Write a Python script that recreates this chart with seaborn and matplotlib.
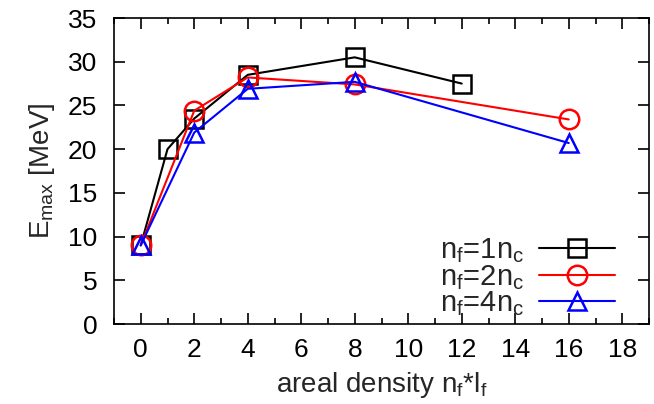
import matplotlib
matplotlib.use("Agg")
import matplotlib.pyplot as plt
import seaborn as sns
import numpy as np

sns.set_theme(style="ticks")
plt.rcParams['font.family'] = ['Liberation Sans', 'DejaVu Sans']
plt.rcParams['mathtext.fontset'] = 'custom'
plt.rcParams['mathtext.rm'] = 'Liberation Sans'
plt.rcParams['mathtext.it'] = 'Liberation Sans'

x_nf1 = [0, 1, 2, 4, 8, 12]
y_nf1 = [9.0, 20.0, 23.5, 28.5, 30.5, 27.5]
x_nf2 = [0, 2, 4, 8, 16]
y_nf2 = [9.0, 24.4, 28.2, 27.4, 23.4]
x_nf4 = [0, 2, 4, 8, 16]
y_nf4 = [9.0, 21.9, 26.9, 27.7, 20.7]
labels = [r"n$_\mathregular{f}$=1n$_\mathregular{c}$",
          r"n$_\mathregular{f}$=2n$_\mathregular{c}$",
          r"n$_\mathregular{f}$=4n$_\mathregular{c}$"]
x_ticks = [0, 2, 4, 6, 8, 10, 12, 14, 16, 18]
y_ticks = [0, 5, 10, 15, 20, 25, 30, 35]

fig = plt.figure(figsize=(6.54, 4.04), dpi=100)
ax = fig.add_axes([114/654, 80/404, 535/654, 306/404])

series = [(x_nf1, y_nf1, "black", "s", 13),
          (x_nf2, y_nf2, "red", "o", 14),
          (x_nf4, y_nf4, "blue", "^", 13)]
for (xs, ys, c, m, ms), lab in zip(series, labels):
    sns.lineplot(x=xs, y=ys, ax=ax, color=c, marker=m, markersize=ms,
                 markerfacecolor="none", markeredgecolor=c, markeredgewidth=1.8,
                 linewidth=1.5, label=lab, sort=False)

ax.set_xlim(-1, 19)
ax.set_ylim(0, 35)
ax.set_xticks(x_ticks)
ax.set_xticks(np.arange(-1, 20, 1), minor=True)
ax.set_yticks(y_ticks)
ax.tick_params(axis="both", which="both", direction="in", top=True, right=True,
               labelsize=19, colors="black")
ax.tick_params(axis="x", which="both", pad=10)
ax.tick_params(axis="y", which="both", pad=12)
ax.tick_params(axis="both", which="major", length=8, width=1.2)
ax.tick_params(axis="x", which="minor", length=4, width=1.2)
for s in ax.spines.values():
    s.set_linewidth(1.2)
    s.set_color("black")
ax.set_xlabel(r"areal density n$_\mathregular{f}$*l$_\mathregular{f}$", fontsize=20, labelpad=6)
ax.set_ylabel(r"E$_\mathregular{max}$ [MeV]", fontsize=20, labelpad=8)

leg = ax.legend(loc="lower right", markerfirst=False, frameon=False, fontsize=21,
                handlelength=2.6, handletextpad=0.5, labelspacing=-0.07,
                borderaxespad=0.0, bbox_to_anchor=(0.958, -0.02))

fig.savefig("out.png", dpi=100)
